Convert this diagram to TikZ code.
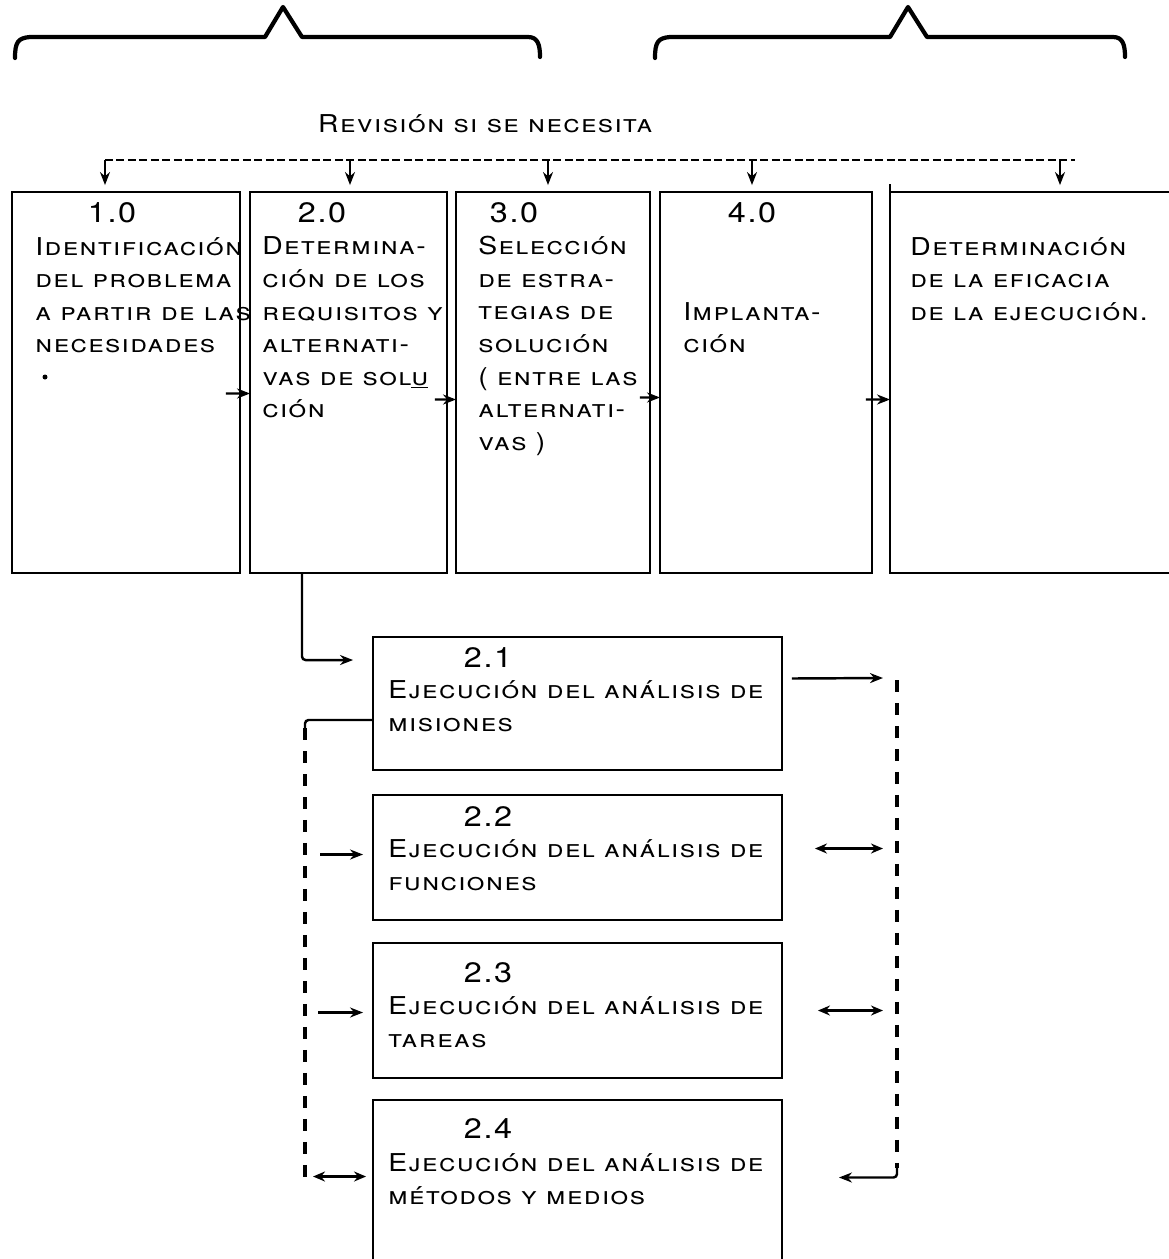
\documentclass[tikz,border=0pt]{standalone}
\usepackage{fontspec}
\setmainfont{TeX Gyre Heros}[LetterSpace=6, FakeStretch=1.15]
\usetikzlibrary{arrows.meta, calc, positioning}

\begin{document}
\begin{tikzpicture}[x=0.02cm, y=-0.02cm,
  mainbox/.style={draw, line width=1pt, inner sep=0pt, outer sep=0pt,
                  minimum width=#1, minimum height=7.62cm},
  subbox/.style={draw, line width=1pt, inner sep=0pt, outer sep=0pt,
                 minimum width=8.18cm, minimum height=#1},
  txt/.style={anchor=base west, align=left, inner sep=0pt,
              font=\fontsize{14}{18.5}\selectfont},
  num/.style={anchor=base, inner sep=0pt, font=\fontsize{16}{18}\selectfont},
  arrow/.style={->, >={Stealth[length=0.26cm, width=0.2cm]}, line width=1.4pt},
  darrow/.style={<->, >={Stealth[length=0.24cm, width=0.2cm]}, line width=1.4pt},
  bus/.style={line width=2pt, dash pattern=on 0.24cm off 0.22cm},
  brace/.style={line width=2.4pt, line cap=round, line join=round},
]
\useasboundingbox (0,0) rectangle (1169,1259);

% Llaves superiores
\draw[brace] (15,58) .. controls (15,42) and (18,38) .. (30,37) -- (265,37)
  -- (283,7) -- (302,37) -- (528,37) .. controls (538,37) and (540,45) .. (540,57);
\draw[brace] (655,58) .. controls (655,42) and (658,38) .. (670,37) -- (890,37)
  -- (908,7) -- (927,37) -- (1113,37) .. controls (1123,37) and (1125,45) .. (1125,57);

% Revision
\node[txt, anchor=base] (rev) at (486,132) {\textsc{Revisión si se necesita}};
\coordinate (rl) at (105,160);
\coordinate (rr) at (1075,160);
\draw[line width=0.8pt, dash pattern=on 0.16cm off 0.07cm] (rl) -- (rr);

% Cajas principales
\node[mainbox=4.56cm] (b1) at (126,382.5) {};
\node[mainbox=3.94cm] (b2) at (348.5,382.5) {};
\node[mainbox=3.88cm] (b3) at (553,382.5) {};
\node[mainbox=4.24cm] (b4) at (766,382.5) {};
\node[inner sep=0pt, outer sep=0pt, minimum width=5.58cm, minimum height=7.62cm] (b5) at (1029.5,382.5) {};
\draw[line width=1pt] (b5.north east) -- (b5.north west) -- ([yshift=0.16cm]b5.north west)
  -- (b5.south west) -- (b5.south east);

\foreach \x/\b in {105/b1, 350/b2, 548/b3, 752/b4, 1060/b5}
  \draw[arrow, line width=1.1pt, shorten >=0.14cm] (\x,160) -- (\x,160 |- \b.north);

% Textos (la base es la ultima linea)
\node[num] (n1) at (112,222) {1.0};
\node[txt] (t1) at (35,352.5) {\textsc{Identificación}\\\textsc{del problema}\\\textsc{a partir de las}\\\textsc{necesidades}};
\fill (45,377) circle (2.5);
\node[num] (n2) at (322,222) {2.0};
\node[txt] (t2) at (262,417.5) {\textsc{Determina-}\\\textsc{ción de los}\\\textsc{requisitos y}\\\textsc{alternati-}\\\textsc{vas de sol\underline{u}}\\\textsc{ción}};
\node[num] (n3) at (514,222) {3.0};
\node[txt] (t3) at (478,450) {\textsc{Selección}\\\textsc{de estra-}\\\textsc{tegias de}\\\textsc{solución}\\\textsc{( entre las}\\\textsc{alternati-}\\\textsc{vas )}};
\node[num] (n4) at (752,222) {4.0};
\node[txt] (t4) at (683,352.5) {\textsc{Implanta-}\\\textsc{ción}};
\node[txt] (t5) at (910,320) {\textsc{Determinación}\\\textsc{de la eficacia}\\\textsc{de la ejecución.}};

% Flechas entre cajas
\draw[arrow] ([shift={(-14,11)}]b1.east) -- ([yshift=-0.22cm]b2.west);
\draw[arrow] ([shift={(-12,17)}]b2.east) -- ([yshift=-0.34cm]b3.west);
\draw[arrow] ([shift={(-10,15)}]b3.east) -- ([yshift=-0.30cm]b4.west);
\draw[arrow] ([shift={(-6,17)}]b4.east) -- ([yshift=-0.34cm]b5.west);

% Subcajas
\node[subbox=2.66cm] (s1) at (577.5,703.5) {};
\node[subbox=2.5cm]  (s2) at (577.5,857.5) {};
\node[subbox=2.7cm]  (s3) at (577.5,1010.5) {};
\node[inner sep=0pt, outer sep=0pt, minimum width=8.18cm, minimum height=3.18cm] (s4) at (577.5,1179.5) {};
\draw[line width=1pt] (s4.south west) -- (s4.north west) -- (s4.north east) -- (s4.south east);

\node[num] (n21) at (488,667) {2.1};
\node[txt] (t21) at (388,731) {\textsc{Ejecución del análisis de}\\\textsc{misiones}};
\node[num] (n22) at (488,826) {2.2};
\node[txt] (t22) at (388,890) {\textsc{Ejecución del análisis de}\\\textsc{funciones}};
\node[num] (n23) at (488,982) {2.3};
\node[txt] (t23) at (388,1047) {\textsc{Ejecución del análisis de}\\\textsc{tareas}};
\node[num] (n24) at (488,1138) {2.4};
\node[txt] (t24) at (388,1204) {\textsc{Ejecución del análisis de}\\\textsc{métodos y medios}};

% Conexion 2.0 -> 2.1
\draw[arrow, rounded corners=2pt, shorten >=0.4cm] (b2.south -| 302,0) |- ([yshift=0.87cm]s1.west);

% Bus izquierdo
\coordinate (lb) at (305,720);
\coordinate (lbend) at (305,1185);
\draw[line width=1.4pt, rounded corners=2pt] ([yshift=-0.33cm]s1.west) -- (lb) -- ($(lb)+(0,8)$);
\draw[bus] ($(lb)+(0,8)$) -- (lbend);
\draw[arrow] ($(lb |- s2.west)+(15,-3)$) -- ($(s2.west)+(-10,-3)$);
\draw[arrow] ($(lb |- s3.west)+(13,2)$) -- ($(s3.west)+(-10,2)$);
\draw[darrow] ($(lb |- s4.west)+(8,-3)$) -- ($(s4.west)+(-7,-3)$);

% Bus derecho
\coordinate (rb) at (897,680);
\coordinate (rbend) at (897,1168);
\draw[arrow] ($(s1.east)+(10,-25)$) -- ($(rb)+(-14,-2)$);
\draw[bus] (rb) -- (rbend);
\draw[darrow] ($(s2.east)+(33,-9)$) -- ($(rb |- s2.east)+(-14,-9)$);
\draw[darrow] ($(s3.east)+(36,0)$) -- ($(rb |- s3.east)+(-14,0)$);
\draw[arrow, rounded corners=2pt, shorten >=0.1cm] (rbend) |- ($(s4.east)+(52,-2)$);
\end{tikzpicture}
\end{document}
